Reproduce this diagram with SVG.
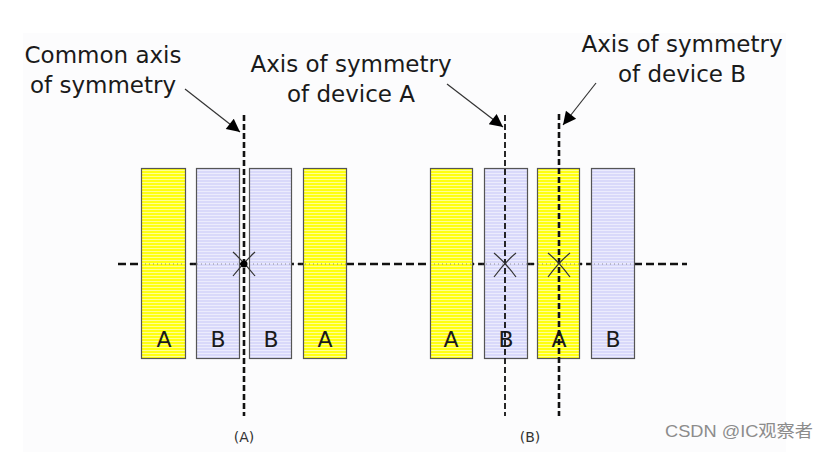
<svg xmlns="http://www.w3.org/2000/svg" width="828" height="452" viewBox="0 0 828 452">
  <style>
    .lbl { font-family: "DejaVu Sans", Verdana, sans-serif; font-size: 23px; fill: #1a1a1a; text-anchor: middle; }
    .dev { font-family: "DejaVu Sans", Verdana, sans-serif; font-size: 22px; fill: #1a1a1a; text-anchor: middle; }
    .cap { font-family: "DejaVu Sans", Verdana, sans-serif; font-size: 14px; fill: #333; text-anchor: middle; }
    .ya { fill: url(#pYellow); stroke: #555; stroke-width: 1.2; }
    .lb { fill: url(#pLav); stroke: #555; stroke-width: 1.2; }
    .axis { fill: none; stroke: #111; stroke-dasharray: 6 3; }
    .hax { fill: none; stroke: #111; stroke-width: 2.5; stroke-dasharray: 8 4; }
    .lead { fill: none; stroke: #333; stroke-width: 1.2; }
    .star { fill: none; stroke: #333; stroke-width: 1.2; }
    .wm { font-family: "Liberation Sans", "Noto Sans CJK SC", sans-serif; font-size: 17px; fill: #8c8c8c; }
  </style>
  <defs>
    <pattern id="pYellow" width="6" height="3" patternUnits="userSpaceOnUse">
      <rect width="6" height="3" fill="#ffff10"/>
      <rect y="2" width="6" height="1" fill="#ffffff" opacity="0.55"/>
    </pattern>
    <pattern id="pLav" width="6" height="3" patternUnits="userSpaceOnUse">
      <rect width="6" height="3" fill="#d9d9fa"/>
      <rect y="2" width="6" height="1" fill="#ffffff" opacity="0.5"/>
    </pattern>
    <marker id="arr" viewBox="0 0 10 10" refX="10" refY="5" markerWidth="16" markerHeight="13" markerUnits="userSpaceOnUse" orient="auto">
      <path d="M0,0 L10,5 L0,10 Z" fill="#000"/>
    </marker>
  </defs>

  <rect x="0" y="0" width="828" height="452" fill="#ffffff"/>
  <rect x="23" y="33" width="763" height="419" fill="#fcfcfd"/>

  <!-- horizontal axis (behind devices) -->
  <g id="connectors">
    <line class="hax" x1="118" y1="264" x2="687" y2="264"/>
  </g>

  <!-- layout (A) -->
  <g id="devA1"><rect class="ya" x="141.5" y="168.5" width="44" height="190"/><text class="dev" x="164" y="347">A</text></g>
  <g id="devB1"><rect class="lb" x="196.5" y="168.5" width="43" height="190"/><text class="dev" x="218" y="347">B</text></g>
  <g id="devB2"><rect class="lb" x="249.5" y="168.5" width="42" height="190"/><text class="dev" x="271" y="347">B</text></g>
  <g id="devA2"><rect class="ya" x="303.5" y="168.5" width="43" height="190"/><text class="dev" x="325" y="347">A</text></g>

  <!-- layout (B) -->
  <g id="devA3"><rect class="ya" x="430.5" y="168.5" width="42" height="190"/><text class="dev" x="451" y="347">A</text></g>
  <g id="devB3"><rect class="lb" x="484.5" y="168.5" width="43" height="190"/><text class="dev" x="506" y="347">B</text></g>
  <g id="devA4"><rect class="ya" x="537.5" y="168.5" width="42" height="190"/><text class="dev" x="559" y="347">A</text></g>
  <g id="devB4"><rect class="lb" x="591.5" y="168.5" width="43" height="190"/><text class="dev" x="613" y="347">B</text></g>

  <g id="axes">
    <line x1="141" y1="264" x2="347" y2="264" stroke="#555" stroke-width="1" stroke-dasharray="1 3" opacity="0.6"/>
    <line x1="430" y1="264" x2="635" y2="264" stroke="#555" stroke-width="1" stroke-dasharray="1 3" opacity="0.6"/>
    <line class="axis" x1="244" y1="115" x2="244" y2="416" stroke-width="2.6"/>
    <line class="axis" x1="505" y1="115" x2="505" y2="416" stroke-width="1.8"/>
    <line class="axis" x1="559" y1="114" x2="559" y2="416" stroke-width="2.6"/>
    <path class="star" d="M233,252 Q244,262 255,276 M255,252 Q244,262 233,276"/>
    <circle cx="244" cy="264" r="3.5" fill="#000"/>
    <path class="star" d="M494,253 Q505,262 516,277 M516,253 Q505,262 494,277"/>
    <path class="star" d="M548,253 Q559,262 570,277 M570,253 Q559,262 548,277"/>
  </g>

  <g id="leaders">
    <line class="lead" x1="185" y1="89" x2="240" y2="132" marker-end="url(#arr)"/>
    <line class="lead" x1="447" y1="84" x2="503" y2="127" marker-end="url(#arr)"/>
    <line class="lead" x1="596" y1="83" x2="563" y2="125" marker-end="url(#arr)"/>
  </g>

  <g id="label-common">
    <text class="lbl" x="103" y="63">Common axis</text>
    <text class="lbl" x="103" y="93">of symmetry</text>
  </g>
  <g id="label-axisA">
    <text class="lbl" x="351" y="72">Axis of symmetry</text>
    <text class="lbl" x="351" y="102">of device A</text>
  </g>
  <g id="label-axisB">
    <text class="lbl" x="682" y="52">Axis of symmetry</text>
    <text class="lbl" x="682" y="82">of device B</text>
  </g>

  <text class="cap" x="244" y="442">(A)</text>
  <text class="cap" x="530" y="442">(B)</text>

  <text class="wm" x="665" y="437" textLength="148" lengthAdjust="spacingAndGlyphs">CSDN @IC观察者</text>
</svg>
